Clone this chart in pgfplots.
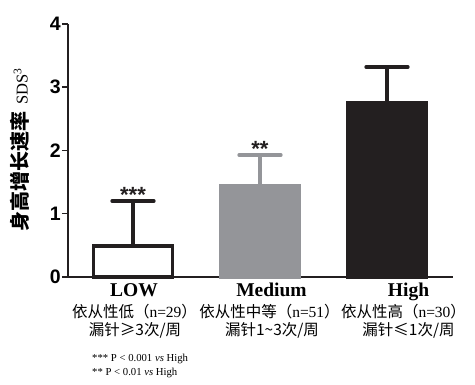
\documentclass[border=0pt]{standalone}
\usepackage{fontspec}
\usepackage{pgfplots}
\pgfplotsset{compat=1.18}
\setmainfont{Liberation Serif}
\newfontfamily\arial{Liberation Sans}
\newfontfamily\cjk{Noto Sans CJK SC}
\definecolor{medgray}{HTML}{949599}
\definecolor{darkbar}{HTML}{231F20}

\begin{document}
\begin{tikzpicture}
\path[use as bounding box] (0,0) rectangle (475pt,-385pt);
\begin{axis}[
  at={(68pt,-277pt)}, anchor=south west,
  scale only axis, width=385pt, height=253pt,
  xmin=-0.512, xmax=2.52, ymin=0, ymax=4,
  axis x line*=bottom, axis y line*=left,
  axis line style={line width=2.9pt, color=darkbar},
  xtick=\empty, ytick={0,1,2,3,4},
  tick align=outside, major tick length=6pt,
  ytick style={line width=1.5pt, color=darkbar},
  yticklabel style={font=\arial\bfseries\fontsize{19.5}{20}\selectfont, inner sep=1pt},
  /pgf/number format/assume math mode=true,
  clip=false,
  bars/.style={ybar, bar width=78.8pt, bar shift=0pt, line width=3.2pt},
  err/.style={line width=3.6pt, mark=none},
  cap/.style={line width=3.4pt, mark=none, line cap=round},
]
% bars
\addplot[bars, draw=darkbar, fill=white] coordinates {(0,0.49)};
\addplot[bars, draw=medgray, fill=medgray] coordinates {(1,1.44)};
\addplot[bars, draw=darkbar, fill=darkbar] coordinates {(2,2.76)};
% error bars (plus only): stem and cap
\addplot[err, darkbar] coordinates {(0,0.49) (0,1.20)};
\addplot[cap, darkbar] coordinates {(-0.165,1.20) (0.165,1.20)};
\addplot[err, medgray] coordinates {(1,1.44) (1,1.93)};
\addplot[cap, medgray] coordinates {(0.835,1.93) (1.165,1.93)};
\addplot[err, darkbar] coordinates {(2,2.76) (2,3.32)};
\addplot[cap, darkbar] coordinates {(1.835,3.32) (2.165,3.32)};
\node[anchor=base, font=\arial\bfseries\fontsize{22}{22}\selectfont, text=darkbar] at (axis cs:0,1.18) {***};
\node[anchor=base, font=\arial\bfseries\fontsize{22}{22}\selectfont, text=darkbar] at (axis cs:1,1.90) {**};
\end{axis}
% y label
\node[rotate=90, anchor=center] at (20pt,-150pt)
  {{\cjk\bfseries\fontsize{20}{21}\selectfont 身高增长速率}\hspace{7pt}{\fontsize{16.5}{18}\selectfont SDS\textsuperscript{3}}};
% category labels
\begin{scope}[every node/.style={anchor=base, inner sep=0pt}]
\node[font=\bfseries\fontsize{19.5}{20}\selectfont] at (134pt,-297pt) {LOW};
\node[font=\bfseries\fontsize{19.5}{20}\selectfont] at (271.5pt,-297pt) {Medium};
\node[font=\bfseries\fontsize{19.5}{20}\selectfont] at (408.5pt,-297pt) {High};
\node[font=\fontsize{15.5}{16}\selectfont] at (134.5pt,-318pt) {{\cjk 依从性低（}n=29{\cjk ）}};
\node[font=\fontsize{15.5}{16}\selectfont] at (269.5pt,-318pt) {{\cjk 依从性中等（}n=51{\cjk ）}};
\node[font=\fontsize{15.5}{16}\selectfont] at (403.5pt,-318pt) {{\cjk 依从性高（}n=30{\cjk ）}};
\node[font=\cjk\fontsize{15.5}{16}\selectfont] at (135pt,-336pt) {漏针≥3次/周};
\node[font=\cjk\fontsize{15.5}{16}\selectfont] at (272pt,-336pt) {漏针1\textasciitilde3次/周};
\node[font=\cjk\fontsize{15.5}{16}\selectfont] at (408.5pt,-336pt) {漏针≤1次/周};
\node[anchor=base west, font=\fontsize{10.7}{12}\selectfont] at (92pt,-362pt) {*** P < 0.001 \textit{vs} High};
\node[anchor=base west, font=\fontsize{10.7}{12}\selectfont] at (92pt,-376pt) {** P < 0.01 \textit{vs} High};
\end{scope}
\end{tikzpicture}
\end{document}
